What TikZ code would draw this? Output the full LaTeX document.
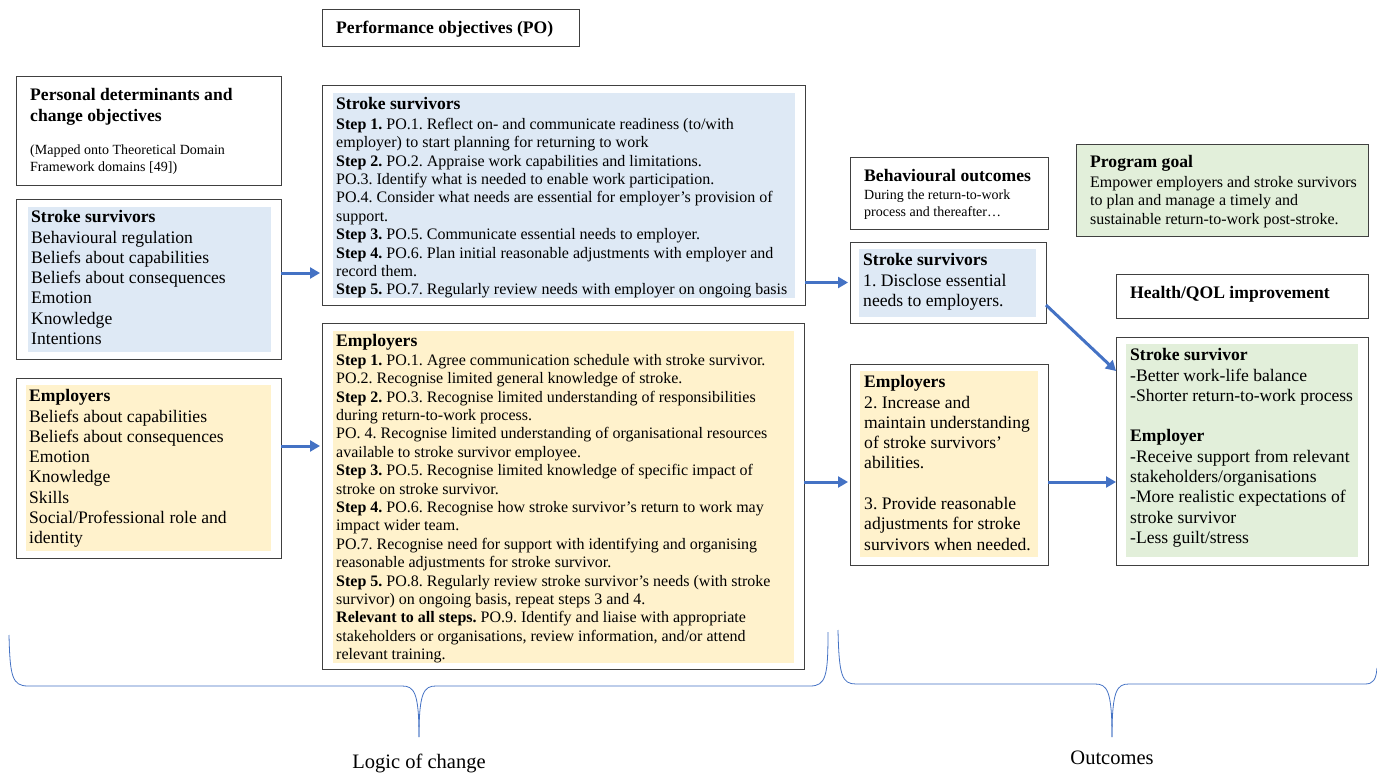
\documentclass[tikz,border=0pt]{standalone}
\usepackage{fontspec}
\setmainfont{Liberation Serif}
\usetikzlibrary{arrows.meta}
\definecolor{sblue}{HTML}{DEE9F5}
\definecolor{syel}{HTML}{FFF2CC}
\definecolor{sgreen}{HTML}{E2EFDA}
\definecolor{abl}{HTML}{4472C4}
\definecolor{bord}{HTML}{404040}
\frenchspacing
\begin{document}
\begin{tikzpicture}[x=1pt,y=-1pt,
 box/.style={draw=bord, line width=1pt, anchor=north west, inner sep=0pt, outer sep=0pt},
 bg/.style={anchor=north west, inner sep=0pt, outer sep=0pt, draw=none},
 body/.style={anchor=north west, inner sep=0pt, align=left, font=\fontsize{17.6}{20.3}\selectfont\frenchspacing},
 bodyb/.style={anchor=north west, inner sep=0pt, align=left, font=\fontsize{17.6}{20.3}\selectfont\bfseries\frenchspacing},
 small/.style={anchor=north west, inner sep=0pt, align=left, font=\fontsize{16}{18.4}\selectfont\frenchspacing},
 tiny/.style={anchor=north west, inner sep=0pt, align=left, font=\fontsize{14}{16.6}\selectfont\frenchspacing},
 arr/.style={draw=abl, line width=3pt, -{Triangle[length=10pt,width=11pt]}},
 brace/.style={draw=abl, line width=0.8pt},
 lab/.style={inner sep=0pt, font=\fontsize{20.5}{24}\selectfont},
]
\useasboundingbox (0,0) rectangle (1377,773);

% ---- Performance objectives title
\node[box, minimum width=257pt, minimum height=37pt] (pot) at (322,10) {};
\node[bodyb] (pott) at (336,20.5) {Performance objectives (PO)};

% ---- Personal determinants
\node[box, minimum width=265pt, minimum height=109pt] (pd) at (16,77) {};
\node[bodyb] (pdt) at (30,88.3) {Personal determinants and\\change objectives};
\node[tiny] (pds) at (30,144.7) {(Mapped onto Theoretical Domain\\Framework domains [49])};

% ---- Left stroke survivors
\node[box, minimum width=265pt, minimum height=159pt] (ls) at (16,200) {};
\node[bg, fill=sblue, minimum width=243pt, minimum height=145pt] (lsf) at (28,207) {};
\node[body] (lst) at (31,210.3) {\textbf{Stroke survivors}\\Behavioural regulation\\Beliefs about capabilities\\Beliefs about consequences\\Emotion\\Knowledge\\Intentions};

% ---- Left employers
\node[box, minimum width=265pt, minimum height=180pt] (le) at (16,378) {};
\node[bg, fill=syel, minimum width=245pt, minimum height=166pt] (lef) at (26,385) {};
\node[body] (let) at (29,389.3) {\textbf{Employers}\\Beliefs about capabilities\\Beliefs about consequences\\Emotion\\Knowledge\\Skills\\Social/Professional role and\\identity};

% ---- PO stroke survivors
\node[box, minimum width=483pt, minimum height=219pt] (ps) at (322,86) {};
\node[bg, fill=sblue, minimum width=462pt, minimum height=205pt] (psf) at (333,93) {};
\node[bodyb] (pst) at (336,97.3) {Stroke survivors};
\node[small] (psb) at (336,117.9) {\textbf{Step 1.} PO.1. Reflect on- and communicate readiness (to/with\\employer) to start planning for returning to work\\\textbf{Step 2.} PO.2. Appraise work capabilities and limitations.\\PO.3. Identify what is needed to enable work participation.\\PO.4. Consider what needs are essential for employer’s provision of\\support.\\\textbf{Step 3.} PO.5. Communicate essential needs to employer.\\\textbf{Step 4.} PO.6. Plan initial reasonable adjustments with employer and\\record them.\\\textbf{Step 5.} PO.7. Regularly review needs with employer on ongoing basis};

% ---- PO employers
\node[box, minimum width=482pt, minimum height=346pt] (pe) at (322,323) {};
\node[bg, fill=syel, minimum width=461pt, minimum height=332pt] (pef) at (333,331) {};
\node[bodyb] (pet) at (336,334.3) {Employers};
\node[small] (peb) at (336,353.9) {\textbf{Step 1.} PO.1. Agree communication schedule with stroke survivor.\\PO.2. Recognise limited general knowledge of stroke.\\\textbf{Step 2.} PO.3. Recognise limited understanding of responsibilities\\during return-to-work process.\\PO. 4. Recognise limited understanding of organisational resources\\available to stroke survivor employee.\\\textbf{Step 3.} PO.5. Recognise limited knowledge of specific impact of\\stroke on stroke survivor.\\\textbf{Step 4.} PO.6. Recognise how stroke survivor’s return to work may\\impact wider team.\\PO.7. Recognise need for support with identifying and organising\\reasonable adjustments for stroke survivor.\\\textbf{Step 5.} PO.8. Regularly review stroke survivor’s needs (with stroke\\survivor) on ongoing basis, repeat steps 3 and 4.\\\textbf{Relevant to all steps.} PO.9. Identify and liaise with appropriate\\stakeholders or organisations, review information, and/or attend\\relevant training.};

% ---- Behavioural outcomes
\node[box, minimum width=198pt, minimum height=71pt] (bo) at (850,158) {};
\node[bodyb] (bot) at (864,169.3) {Behavioural outcomes};
\node[tiny] (bos) at (864,189.7) {During the return-to-work\\process and thereafter…};

% ---- Outcome stroke survivors
\node[box, minimum width=196pt, minimum height=81pt] (os) at (850,242) {};
\node[bg, fill=sblue, minimum width=177pt, minimum height=68pt] (osf) at (859,249) {};
\node[body] (ost) at (863,253.3) {\textbf{Stroke survivors}\\1. Disclose essential\\needs to employers.};

% ---- Outcome employers
\node[box, minimum width=198pt, minimum height=201pt] (oe) at (850,364) {};
\node[bg, fill=syel, minimum width=178pt, minimum height=186pt] (oef) at (860,371) {};
\node[body] (oet) at (864,375.3) {\textbf{Employers}\\2. Increase and\\maintain understanding\\of stroke survivors’\\abilities.\\[20.3pt]3. Provide reasonable\\adjustments for stroke\\survivors when needed.};

% ---- Program goal
\node[box, fill=sgreen, minimum width=292pt, minimum height=91pt] (pg) at (1076,145) {};
\node[bodyb] (pgt) at (1090,155.3) {Program goal};
\node[small] (pgb) at (1090,175.9) {Empower employers and stroke survivors\\to plan and manage a timely and\\sustainable return-to-work post-stroke.};

% ---- Health/QOL
\node[box, minimum width=252pt, minimum height=44pt] (hq) at (1116,274) {};
\node[bodyb] (hqt) at (1130,286.3) {Health/QOL improvement};

% ---- Stroke survivor / employer outcomes
\node[box, minimum width=252pt, minimum height=228pt] (so) at (1116,337) {};
\node[bg, fill=sgreen, minimum width=232pt, minimum height=213pt] (sof) at (1126,344) {};
\node[body] (sot) at (1130,348.3) {\textbf{Stroke survivor}\\-Better work-life balance\\-Shorter return-to-work process\\[20.3pt]\textbf{Employer}\\-Receive support from relevant\\stakeholders/organisations\\-More realistic expectations of\\stroke survivor\\-Less guilt/stress};

% ---- Arrows
\draw[arr, shorten >=2pt] ([yshift=6.5pt]ls.east) -- ([yshift=6.5pt]ls.east -| ps.west);
\draw[arr, shorten >=2pt] ([yshift=22pt]le.east) -- ([yshift=22pt]le.east -| pe.west);
\draw[arr, shorten >=2pt] (ps.east |- os.west) -- (os.west);
\draw[arr, shorten >=2pt] ([yshift=-17.5pt]oe.west -| pe.east) -- ([yshift=-17.5pt]oe.west);
\draw[arr] ([yshift=-22.5pt]os.east) -- ([yshift=-34pt]so.north west);
\draw[arr] ([yshift=-17.5pt]oe.east) -- ([yshift=-17.5pt]oe.east -| so.west);

% ---- Braces
\draw[brace] (9,635) .. controls (10,676) and (12,686) .. (28,686) -- (402,686) .. controls (414,686) and (419,692) .. (419,737);
\draw[brace] (419,737) .. controls (419,692) and (424,686) .. (436,686) -- (810,686) .. controls (826,686) and (828,676) .. (828,632);
\draw[brace] (838,630) .. controls (839,676) and (842,684) .. (856,684) -- (1095,684) .. controls (1107,684) and (1112,690) .. (1112,737);
\draw[brace] (1112,737) .. controls (1112,690) and (1117,684) .. (1129,684) -- (1365,684) .. controls (1373,684) and (1376,680) .. (1377,668);

\node[lab] (lc) at (419,763) {Logic of change};
\node[lab] (oc) at (1112,758) {Outcomes};
\end{tikzpicture}
\end{document}
